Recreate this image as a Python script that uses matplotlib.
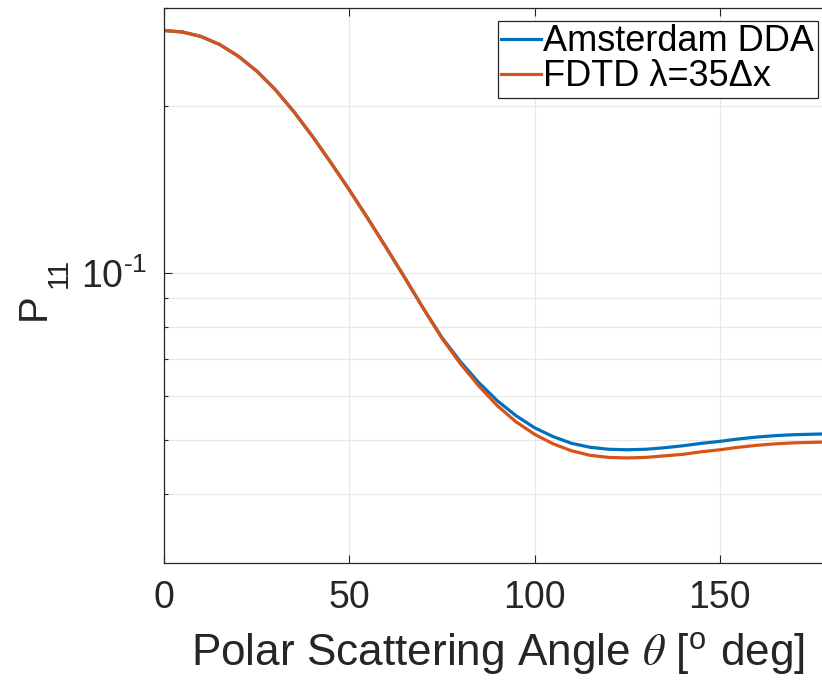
import matplotlib
matplotlib.use("Agg")
import matplotlib.pyplot as plt
from matplotlib.ticker import FixedLocator, NullFormatter

plt.rcParams["font.family"] = ["Liberation Sans", "DejaVu Sans"]
plt.rcParams["mathtext.fontset"] = "custom"
plt.rcParams["mathtext.rm"] = "Liberation Sans"
plt.rcParams["mathtext.it"] = "STIXGeneral:italic"

# polar angle [deg]
theta = [0, 5, 10, 15, 20, 25, 30, 35, 40, 45, 50, 55, 60, 65, 70, 75, 80, 85, 90,
         95, 100, 105, 110, 115, 120, 125, 130, 135, 140, 145, 150, 155, 160, 165,
         170, 175, 180]

# P11
p11_dda = [0.2736, 0.2719, 0.2669, 0.2582, 0.2461, 0.2313, 0.2142, 0.1955, 0.1766,
           0.1582, 0.1412, 0.1254, 0.1110, 0.0980, 0.0863, 0.0765, 0.0692, 0.0634,
           0.0588, 0.0553, 0.0526, 0.0507, 0.0493, 0.0485, 0.0481, 0.0480, 0.0481,
           0.0484, 0.0488, 0.0493, 0.0497, 0.0502, 0.0506, 0.0509, 0.0511, 0.0512,
           0.0513]
p11_fdtd = [0.2736, 0.2719, 0.2669, 0.2582, 0.2461, 0.2313, 0.2142, 0.1955, 0.1766,
            0.1582, 0.1412, 0.1254, 0.1110, 0.0980, 0.0863, 0.0763, 0.0686, 0.0625,
            0.0576, 0.0539, 0.0512, 0.0492, 0.0478, 0.0469, 0.0465, 0.0464, 0.0465,
            0.0468, 0.0471, 0.0476, 0.0480, 0.0485, 0.0489, 0.0492, 0.0494, 0.0495,
            0.0496]

labels = ["Amsterdam DDA", "FDTD λ=35Δx"]
xticks = [0, 50, 100, 150]
yticks_major = [0.1]
ytick_labels = [r"$\mathdefault{10^{\text{-}1}}$"]
yticks_minor = [0.04, 0.05, 0.06, 0.07, 0.08, 0.09, 0.2, 0.3]

fig = plt.figure(figsize=(8.22, 6.82), dpi=100)
ax = fig.add_axes([0.1995, 0.1745, 0.8114, 0.8133])

ax.plot(theta, p11_dda, color="#0072BD", lw=2.3, label=labels[0],
        solid_joinstyle="round")
ax.plot(theta, p11_fdtd, color="#D95319", lw=2.3, label=labels[1],
        solid_joinstyle="round")

ax.set_yscale("log")
ax.set_xlim(0, 180)
ax.set_ylim(0.03, 0.3)

ax.set_xticks(xticks)
ax.yaxis.set_major_locator(FixedLocator(yticks_major))
ax.set_yticklabels(ytick_labels)
ax.yaxis.set_minor_locator(FixedLocator(yticks_minor))
ax.yaxis.set_minor_formatter(NullFormatter())

ax.grid(True, which="both", color="#e8e8e8", lw=0.9)
ax.set_axisbelow(True)
ax.tick_params(which="both", direction="in", top=True, right=True,
               colors="#262626", labelsize=27, pad=12)
ax.tick_params(which="major", length=6, width=0.8)
ax.tick_params(which="minor", length=3, width=0.8)
for s in ax.spines.values():
    s.set_color("#262626")
    s.set_linewidth(0.9)

ax.set_xlabel(r"Polar Scattering Angle $\theta$ [$^{\mathrm{o}}$ deg]",
              fontsize=31.8, color="#262626", labelpad=11)

# y label P_11, subscript dropped deep like the MATLAB one
ax.text(-0.1784, 0.463, "P", rotation=90, rotation_mode="anchor",
        ha="center", va="baseline", fontsize=29, color="#262626",
        transform=ax.transAxes, clip_on=False)
ax.text(-0.1454, 0.523, "11", rotation=90, rotation_mode="anchor",
        ha="center", va="baseline", fontsize=21, color="#262626",
        transform=ax.transAxes, clip_on=False)

leg = ax.legend(loc="upper right", bbox_to_anchor=(0.9805, 0.9776),
                borderaxespad=0, fontsize=26, fancybox=False,
                edgecolor="#262626", framealpha=1, handlelength=1.1,
                handletextpad=0.06, borderpad=0.1, labelspacing=0.0)
leg.get_frame().set_linewidth(0.9)

fig.savefig("out.png", dpi=100)
